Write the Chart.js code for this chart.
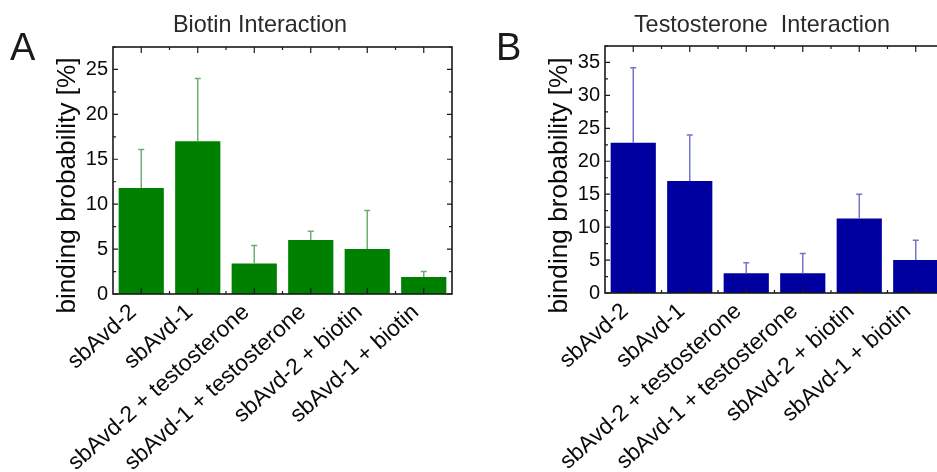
<!DOCTYPE html>
<html>
<head>
<meta charset="utf-8">
<script src="https://cdn.jsdelivr.net/npm/chart.js@4.4.1/dist/chart.umd.min.js"></script>
<style>
  html, body { margin: 0; padding: 0; background: #fff; width: 937px; height: 472px; overflow: hidden; }
  .panel { position: absolute; top: 0; width: 470px; height: 472px; }
</style>
</head>
<body>
<div class="panel" style="left:0px"><canvas id="biotinChart"></canvas></div>
<div class="panel" style="left:492px"><canvas id="testoChart"></canvas></div>
<script>
// categories shared by both panels
const categories = ['sbAvd-2', 'sbAvd-1', 'sbAvd-2 + testosterone', 'sbAvd-1 + testosterone', 'sbAvd-2 + biotin', 'sbAvd-1 + biotin'];

// panel A (biotin interaction): bar heights and upper error bar ends, in %
const biotinValues = [11.8, 17.0, 3.4, 6.0, 5.0, 1.9];
const biotinErrHigh = [16.1, 24.0, 5.4, 7.0, 9.3, 2.5];

// panel B (testosterone interaction)
const testoValues = [22.8, 17.0, 3.0, 3.0, 11.3, 5.0];
const testoErrHigh = [34.2, 24.0, 4.6, 6.0, 15.0, 8.0];

const yTicksStep = 5;
const FONT = "'Liberation Sans', Arial, sans-serif";

// frame, inward ticks, error bars and the text around each panel
const decorPlugin = {
    id: 'decor',
    afterDatasetsDraw(chart, args, opts) {
        const ctx = chart.ctx;
        const a = chart.chartArea;
        const x = chart.scales.x, y = chart.scales.y;
        const meta = chart.getDatasetMeta(0);

        // error bars (upper side only)
        ctx.save();
        ctx.strokeStyle = opts.errColor;
        ctx.lineWidth = 1.5;
        opts.errHigh.forEach((hi, i) => {
            const bar = meta.data[i];
            if (!bar) return;
            const yTop = y.getPixelForValue(hi);
            ctx.beginPath();
            ctx.moveTo(bar.x, bar.y);
            ctx.lineTo(bar.x, yTop);
            ctx.moveTo(bar.x - 3, yTop);
            ctx.lineTo(bar.x + 3, yTop);
            ctx.stroke();
        });
        ctx.restore();

        // box
        ctx.save();
        ctx.strokeStyle = '#1a1a1a';
        ctx.lineWidth = 1.6;
        ctx.strokeRect(a.left, a.top, a.right - a.left, a.bottom - a.top);

        // y ticks, major on each step and minor in between, on both sides
        ctx.lineWidth = 1.2;
        ctx.beginPath();
        for (let v = 0; v <= y.max + 1e-6; v += yTicksStep / 2) {
            const py = y.getPixelForValue(v);
            const len = (v % yTicksStep === 0) ? 5 : 3;
            ctx.moveTo(a.left, py); ctx.lineTo(a.left + len, py);
            ctx.moveTo(a.right, py); ctx.lineTo(a.right - len, py);
        }
        // x ticks at category centres, minor ones at category borders
        for (let i = 0; i < categories.length; i++) {
            const px = x.getPixelForValue(i);
            ctx.moveTo(px, a.bottom); ctx.lineTo(px, a.bottom - 6);
            ctx.moveTo(px, a.top); ctx.lineTo(px, a.top + 6);
            if (i > 0) {
                const pb = (px + x.getPixelForValue(i - 1)) / 2;
                ctx.moveTo(pb, a.bottom); ctx.lineTo(pb, a.bottom - 3);
                ctx.moveTo(pb, a.top); ctx.lineTo(pb, a.top + 3);
            }
        }
        ctx.stroke();
        ctx.restore();

        // texts
        ctx.save();
        ctx.fillStyle = '#1a1a1a';
        ctx.textBaseline = 'alphabetic';
        ctx.font = '38px ' + FONT;
        ctx.textAlign = 'left';
        ctx.fillText(opts.letter, opts.letterX, 60);

        ctx.fillStyle = '#2a2a2a';
        ctx.font = '23.4px ' + FONT;
        ctx.textAlign = 'center';
        ctx.fillText(opts.title, opts.titleX, 32);

        ctx.fillStyle = '#0a0a0a';
        ctx.font = '26.2px ' + FONT;
        ctx.translate(a.left - 45, 185.5);
        ctx.rotate(-Math.PI / 2);
        ctx.textBaseline = 'middle';
        ctx.fillText('binding brobability [%]', 0, 0);
        ctx.restore();
    }
};

function makeChart(id, values, errHigh, color, errColor, yMax, top, bottom, deco) {
    return new Chart(document.getElementById(id), {
        type: 'bar',
        data: {
            labels: categories,
            datasets: [{
                data: values,
                backgroundColor: color,
                borderWidth: 0,
                categoryPercentage: 1.0,
                barPercentage: 0.8
            }]
        },
        options: {
            responsive: true,
            maintainAspectRatio: false,
            animation: false,
            layout: { padding: { top: top, right: 18, left: 0, bottom: 0 } },
            plugins: {
                legend: { display: false },
                tooltip: { enabled: false },
                decor: Object.assign({ errHigh: errHigh, errColor: errColor }, deco)
            },
            scales: {
                x: {
                    grid: { display: false, drawTicks: false },
                    border: { display: false },
                    ticks: {
                        color: '#0a0a0a',
                        font: { family: FONT, size: 22.8 },
                        minRotation: 42, maxRotation: 42,
                        autoSkip: false,
                        padding: 5,
                        labelOffset: -8
                    },
                    afterFit: s => { s.height = 472 - bottom; }
                },
                y: {
                    min: 0, max: yMax,
                    grid: { display: false, drawTicks: false },
                    border: { display: false },
                    ticks: {
                        stepSize: yTicksStep,
                        includeBounds: false,
                        color: '#0a0a0a',
                        font: { family: FONT, size: 20 },
                        padding: 5
                    },
                    afterFit: s => { s.width = 113; }
                }
            }
        },
        plugins: [decorPlugin]
    });
}

makeChart('biotinChart', biotinValues, biotinErrHigh, '#008000', '#6eae6e', 27.5, 47, 294,
    { letter: 'A', letterX: 10, title: 'Biotin Interaction', titleX: 260 });
makeChart('testoChart', testoValues, testoErrHigh, '#0000a0', '#7474cc', 37.5, 46, 293,
    { letter: 'B', letterX: 4, title: 'Testosterone  Interaction', titleX: 270 });
</script>
</body>
</html>
